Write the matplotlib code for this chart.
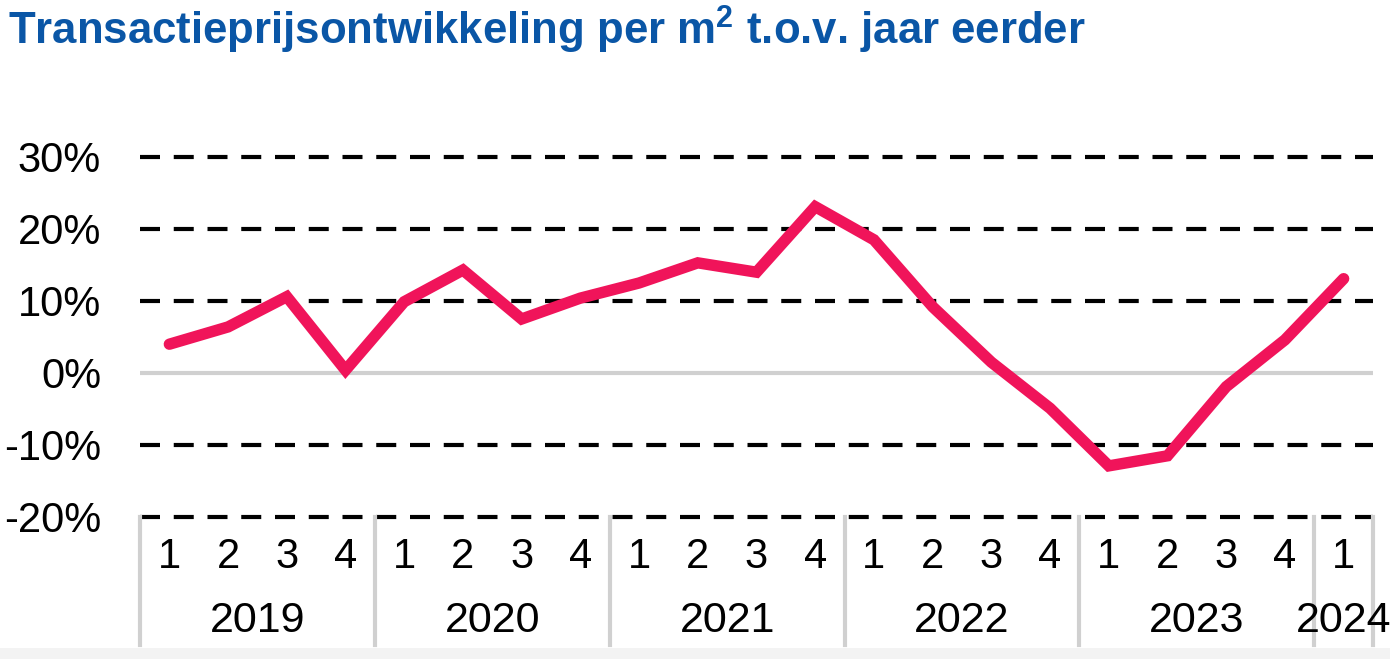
import matplotlib
matplotlib.use('Agg')
import matplotlib.pyplot as plt
import matplotlib.transforms as mtransforms
from matplotlib.patches import Rectangle

plt.rcParams['font.family'] = ['Liberation Sans', 'DejaVu Sans']
plt.rcParams['mathtext.fontset'] = 'custom'
plt.rcParams['mathtext.rm'] = 'Liberation Sans:bold'
plt.rcParams['mathtext.bf'] = 'Liberation Sans:bold'
plt.rcParams['mathtext.default'] = 'bf'

# data
years = ['2019', '2020', '2021', '2022', '2023', '2024']
quarters_per_year = [4, 4, 4, 4, 4, 1]
quarter_labels = ['1', '2', '3', '4'] * 5 + ['1']
price_change = [4.0, 6.4, 10.6, 0.4,
                9.9, 14.3, 7.5, 10.4,
                12.5, 15.3, 14.0, 23.1,
                18.5, 9.2, 1.5, -4.9,
                -12.9, -11.5, -1.9, 4.6,
                13.1]
y_ticks = [-20, -10, 0, 10, 20, 30]

W, H = 1390, 659
fig = plt.figure(figsize=(W / 100, H / 100), dpi=100)
fig.patch.set_facecolor('white')
fig.patches.append(Rectangle((0, 0), 1, 11 / H, transform=fig.transFigure,
                             facecolor='#f3f3f3', edgecolor='none', zorder=0))

ax = fig.add_axes([140 / W, (H - 517) / H, (1373 - 140) / W, 360 / H])
ax.set_xlim(-0.5, len(price_change) - 0.5)
ax.set_ylim(-20, 30)

# gridlines
for v in y_ticks:
    if v == 0:
        ax.axhline(v, color='#d0d0d0', lw=3, zorder=1)
    else:
        ax.axhline(v, color='black', lw=3, ls=(0, (4.8, 3.3)), zorder=1, clip_on=False)

x = list(range(len(price_change)))
ax.plot(x, price_change, color='#f0145a', lw=8.2, solid_joinstyle='miter',
        solid_capstyle='round', zorder=3)

ax.set_yticks(y_ticks)
ax.set_yticklabels([f'{v}%' for v in y_ticks], fontsize=30)
ax.tick_params(axis='y', length=0, pad=28)
ax.set_xticks([])
for s in ax.spines.values():
    s.set_visible(False)

# category axis: quarters, years and separators
trans = mtransforms.blended_transform_factory(ax.transData, ax.transAxes)
for i, q in enumerate(quarter_labels):
    ax.text(i, -0.11, q, transform=trans, ha='center', va='center', fontsize=30)

start = 0
seps = [-0.5]
for yr, n in zip(years, quarters_per_year):
    mid = start + (n - 1) / 2
    ax.text(mid, -0.29, yr, transform=trans, ha='center', va='center', fontsize=31)
    start += n
    seps.append(start - 0.5)
for s in seps:
    ax.plot([s, s], [0, -0.355], transform=trans, color='#d0d0d0', lw=3,
            clip_on=False, zorder=1)

fig.text(8 / W, 1 - 30 / H, r'Transactieprijsontwikkeling per m$^2$ t.o.v. jaar eerder',
         fontsize=31.5, fontweight='bold', color='#0a56a6', ha='left', va='center')

fig.savefig('out.png', dpi=100)
